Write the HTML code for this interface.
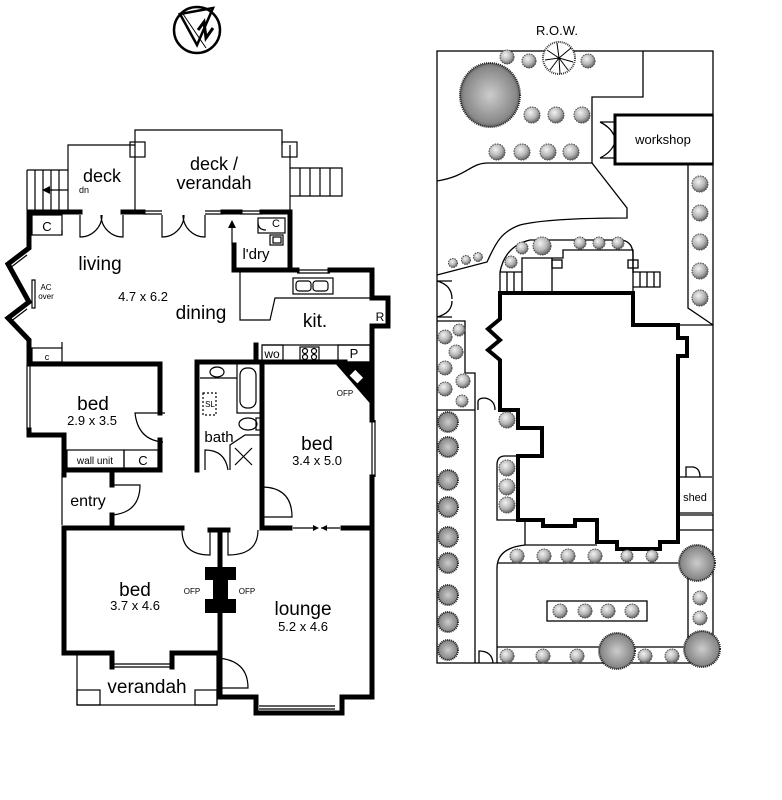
<!DOCTYPE html>
<html><head><meta charset="utf-8"><style>
html,body{margin:0;padding:0;background:#fff;}
svg{display:block;}
text{font-family:"Liberation Sans",sans-serif;fill:#000;}
</style></head><body>
<svg width="782" height="800" viewBox="0 0 782 800" xmlns="http://www.w3.org/2000/svg">
<defs>
<radialGradient id="sh" cx="40%" cy="35%" r="65%"><stop offset="0" stop-color="#f2f2f2"/><stop offset="0.6" stop-color="#b5b5b5"/><stop offset="1" stop-color="#666"/></radialGradient>
<radialGradient id="tr" cx="50%" cy="50%" r="55%"><stop offset="0" stop-color="#ccc"/><stop offset="0.8" stop-color="#888"/><stop offset="1" stop-color="#444"/></radialGradient>
</defs>
<g fill="none" stroke="#000">
<!-- compass -->
<circle cx="197" cy="30" r="23" stroke-width="2.5"/>
<path d="M180,14 L213,8 L197,45 Z" stroke-width="2.5"/>
<path d="M183,14 L206,48" stroke-width="1"/>
<path d="M198,30 L204,22 L206,38 L213,28" stroke-width="3"/>

<!-- ===== FLOOR PLAN thin lines ===== -->
<g stroke-width="1.2">
<path d="M68,210 V145 H135 V130 H282 V145"/>
<path d="M135,145 V210 M290,145 V210"/>
<rect x="130" y="142" width="15" height="15"/>
<rect x="282" y="142" width="15" height="15"/>
<path d="M27,170 H68 M27,170 V210 M35,170 V210 M43,170 V210 M51,170 V210 M59,170 V210"/>
<path d="M290,168 H342 V196 H290 M300,168 V196 M310,168 V196 M320,168 V196 M330,168 V196"/>
<path d="M143,211 H162 M143,214 H162 M205,211 H223 M205,214 H223 M240,211 H262 M240,214 H262"/>
<!-- doors top -->
<path d="M80,215 V237 A22,22 0 0 0 102,215 M123,215 V237 A22,22 0 0 1 101,215"/>
<path d="M162,215 V237 A22,22 0 0 0 184,215 M205,215 V237 A22,22 0 0 1 183,215"/>
<rect x="32" y="215" width="30" height="20"/>
<rect x="32" y="348" width="30" height="14"/>
<path d="M62,235 V230 M62,348 V342"/>
<rect x="258" y="218" width="27" height="15"/>
<path d="M258,222 Q258,230 266,230"/>
<rect x="270" y="235" width="13" height="10"/><rect x="273" y="237" width="8" height="6"/>
<rect x="32" y="280" width="3" height="28" fill="#fff"/>
<path d="M27,250 L8,264 M27,255 L10,268 M27,304 L8,318 M27,309 L10,322"/>
<path d="M240,272 V320 H270 L275,298 H370"/>
<rect x="293" y="278" width="40" height="16"/><rect x="296" y="281" width="15" height="10" rx="3"/><rect x="313" y="281" width="15" height="10" rx="3"/>
<path d="M297,270 H330 M297,273 H330"/>
<path d="M262,345 H370 M262,362 H370"/>
<rect x="262" y="345" width="21" height="17"/>
<rect x="300" y="347" width="19" height="13"/>
<circle cx="305" cy="351" r="2.5"/><circle cx="314" cy="351" r="2.5"/><circle cx="305" cy="357" r="2.5"/><circle cx="314" cy="357" r="2.5"/>
<rect x="338" y="345" width="32" height="17"/>
<path d="M200,363 H262 M200,378 H237 M237,363 V413 H262"/>
<ellipse cx="217" cy="372" rx="7" ry="5"/>
<rect x="240" y="368" width="16" height="40" rx="7"/>
<ellipse cx="248" cy="424" rx="9" ry="6"/><rect x="256" y="418" width="5" height="12"/>
<rect x="203" y="393" width="13" height="22" stroke-dasharray="2,2"/>
<path d="M230,470 V445 L245,435 H262 M235,448 L252,465 M252,448 L235,465"/>
<path d="M205,470 V450 Q225,450 228,470"/>
<path d="M165,413 H158 M163,442 Q138,440 135,413 H163"/>
<rect x="67" y="450" width="57" height="18"/><rect x="124" y="450" width="34" height="18"/>
<path d="M62,473 V525 M110,485 H140 Q140,512 113,515"/>
<path d="M263,487 Q292,488 292,517 H263"/>
<path d="M372,420 V477 M375,420 V477"/>
<path d="M27,365 V430 M30,365 V430"/>
<path d="M182,530 Q182,555 210,555 V530 M258,530 Q258,555 228,555 V530"/>
<path d="M293,528 H313 M321,528 H340"/>
<path d="M77,655 V705 H217 V655"/>
<rect x="77" y="690" width="23" height="15"/><rect x="195" y="690" width="22" height="15"/>
<path d="M114,664 H170 M114,667 H170 M259,706 H335 M259,709 H335"/>
<path d="M217,658 Q248,660 248,688 H217"/>
</g>
<path d="M313,525 L319,528 L313,531 Z M321,528 L327,525 L327,531 Z" fill="#000" stroke="none"/>
<path d="M232,245 V222" stroke-width="1.2"/><path d="M228,228 L232,220 L236,228 Z" fill="#000" stroke="none"/>
<path d="M68,190 H45" stroke-width="1.2"/><path d="M50,186 L42,190 L50,194 Z" fill="#000" stroke="none"/>

<!-- ===== FLOOR PLAN thick walls ===== -->
<g stroke-width="5" stroke-linecap="square" stroke-linejoin="miter">
<path d="M29,212 H80 M123,212 H143 M223,212 H240 M262,212 H290"/>
<path d="M29,212 V248 L8,264 L29,302 L8,318 L29,340 V364"/>
<path d="M29,430 V435 H64 V470 H160 V440 M160,413 V364 H29"/>
<path d="M290,212 V270 H234 V245"/>
<path d="M234,270 H297 M330,270 H372 V298 H388 V326 H372 V420"/>
<path d="M372,477 V697 H342 V713 H256 V697 H220 V658"/>
<path d="M256,345 V362 M197,470 V362 H262 V528 H290 M343,528 H372"/>
<path d="M262,362 H345"/>
<path d="M64,475 V473 M112,473 V485 M112,515 V528"/>
<path d="M64,528 H182 M64,528 V653 H112 V667 M172,667 V653 H220 V645 M210,530 H228 M220,530 V645"/>
</g>
<path d="M334,362 H374 V408 Z" fill="#000" stroke="none"/>
<path d="M112,667 H114 M170,667 H172" stroke-width="5"/>
<rect x="205" y="567" width="31" height="46" fill="#000" stroke="none"/>
<rect x="205" y="580" width="8" height="19" fill="#fff" stroke="none"/>
<rect x="228" y="580" width="8" height="19" fill="#fff" stroke="none"/>
<rect x="350" y="372" width="12" height="9" fill="#fff" stroke="#000" transform="rotate(45 356 377)"/>

<!-- ===== SITE PLAN ===== -->
<g stroke-width="1.3">
<rect x="437" y="51" width="276" height="612"/>
<path d="M643,51 V97 H592 V163 H488 C470,163 468,176 437,181"/>
<path d="M592,163 L627,208 V218 C580,218 540,220 520,225 C500,232 495,245 487,262 L437,275"/>
<path d="M600,122 H615 V158 H600 M600,122 Q612,128 615,138 M600,158 Q612,152 615,142"/>
<path d="M688,164 V308 L713,325 M678,325 H713"/>
<path d="M500,293 V272 Q505,246 530,240 H622 Q633,242 633,255 V273"/>
<path d="M500,272 H522 V293 M507,272 V293 M514,272 V293 M522,272 V258 H552 V293 M552,258 H563 V250 H633 V293"/>
<rect x="552" y="260" width="10" height="8"/><rect x="628" y="260" width="10" height="8"/>
<path d="M633,272 H660 V287 H633 M640,272 V287 M647,272 V287 M654,272 V287"/>
<path d="M437,281 H452 M437,317 H452 M437,281 Q452,285 452,299 M437,317 Q452,313 452,301"/>
<path d="M437,321 H465 V373 H475 V663 M437,410 H475 M478,410 V402 Q478,398 485,398 Q495,400 495,410"/>
<path d="M518,456 H505 Q497,456 497,465 V520 H518"/>
<path d="M525,520 V545 H597 M525,545 Q497,548 497,568 V663 M497,563 H688 V647 H497"/>
<rect x="547" y="601" width="100" height="20"/>
<path d="M678,477 H712 M678,513 H712 M678,515 H713 M678,530 H713 M686,477 V467 H693 Q700,468 700,477"/>
<path d="M479,663 V651 Q492,651 493,663"/>
</g>
<rect x="615" y="115" width="98" height="49" stroke-width="1.3"/>
<path d="M713,115 H615 V164 H713" stroke-width="3"/>
<path d="M500,293 H633 V325 H678 V338 H687 V356 H678 V542 H660 V549 H617 V542 H597 V520 H575 V526 H543 V520 H518 V456 H542 V428 H518 V410 H500 V360 L488,350 L500,340 L488,329 L500,319 Z" stroke-width="4"/>
</g>

<g fill="url(#sh)" stroke="#444" stroke-width="1" stroke-dasharray="1.5,1">
<circle cx="507" cy="57" r="7"/><circle cx="529" cy="61" r="7"/><circle cx="588" cy="61" r="7"/>
<circle cx="532" cy="115" r="8"/><circle cx="556" cy="115" r="8"/><circle cx="582" cy="115" r="8"/>
<circle cx="497" cy="152" r="8"/><circle cx="522" cy="152" r="8"/><circle cx="548" cy="152" r="8"/><circle cx="571" cy="152" r="8"/>
<circle cx="700" cy="184" r="8"/><circle cx="700" cy="213" r="8"/><circle cx="700" cy="242" r="8"/><circle cx="700" cy="271" r="8"/><circle cx="700" cy="298" r="8"/>
<circle cx="453" cy="263" r="4.5"/><circle cx="466" cy="260" r="4.5"/><circle cx="478" cy="257" r="4.5"/>
<circle cx="511" cy="262" r="6"/><circle cx="522" cy="248" r="6"/><circle cx="542" cy="246" r="9"/><circle cx="580" cy="243" r="6"/><circle cx="599" cy="243" r="6"/><circle cx="618" cy="243" r="6"/>
<circle cx="445" cy="337" r="7"/><circle cx="459" cy="330" r="6"/><circle cx="456" cy="352" r="7"/><circle cx="445" cy="368" r="7"/><circle cx="463" cy="381" r="7"/><circle cx="445" cy="389" r="7"/><circle cx="462" cy="401" r="6"/>
<circle cx="507" cy="420" r="8"/><circle cx="507" cy="468" r="8"/><circle cx="507" cy="487" r="8"/><circle cx="507" cy="505" r="8"/>
<circle cx="517" cy="556" r="7"/><circle cx="544" cy="556" r="7"/><circle cx="568" cy="556" r="7"/><circle cx="595" cy="556" r="7"/><circle cx="627" cy="556" r="6"/><circle cx="652" cy="556" r="6"/>
<circle cx="560" cy="611" r="7"/><circle cx="585" cy="611" r="7"/><circle cx="608" cy="611" r="7"/><circle cx="632" cy="611" r="7"/>
<circle cx="700" cy="598" r="7"/><circle cx="700" cy="618" r="7"/>
<circle cx="507" cy="656" r="7"/><circle cx="543" cy="656" r="7"/><circle cx="577" cy="656" r="7"/><circle cx="645" cy="656" r="7"/><circle cx="672" cy="656" r="7"/>
</g>
<g fill="url(#tr)" stroke="#222" stroke-width="2" stroke-dasharray="1,1">
<circle cx="448" cy="422" r="10"/><circle cx="448" cy="447" r="10"/><circle cx="448" cy="480" r="10"/><circle cx="448" cy="507" r="10"/><circle cx="448" cy="537" r="10"/><circle cx="448" cy="563" r="10"/><circle cx="448" cy="595" r="10"/><circle cx="448" cy="622" r="10"/><circle cx="448" cy="650" r="10"/>
<ellipse cx="490" cy="95" rx="30" ry="32"/>
<circle cx="697" cy="563" r="18"/><circle cx="617" cy="651" r="18"/><circle cx="702" cy="649" r="18"/>
</g>
<circle cx="559" cy="58" r="16" fill="#fff" stroke="#333" stroke-width="2" stroke-dasharray="1,1"/>
<path d="M559,58 L547,50 M559,58 L571,48 M559,58 L550,70 M559,58 L568,70 M559,58 L545,60 M559,58 L573,62 M559,58 L557,43 M559,58 L560,74" stroke="#000" stroke-width="1"/>

<g text-anchor="middle">
<text x="102" y="182" font-size="18">deck</text>
<text x="84" y="193" font-size="9">dn</text>
<text x="214" y="170" font-size="18">deck /</text>
<text x="214" y="189" font-size="18">verandah</text>
<text x="47" y="231" font-size="13">C</text>
<text x="276" y="227" font-size="11">C</text>
<text x="256" y="259" font-size="15">l'dry</text>
<text x="100" y="270" font-size="19">living</text>
<text x="143" y="301" font-size="13">4.7 x 6.2</text>
<text x="201" y="319" font-size="19">dining</text>
<text x="315" y="327" font-size="19">kit.</text>
<text x="380" y="321" font-size="12">R</text>
<text x="46" y="290" font-size="8">AC</text>
<text x="46" y="299" font-size="8">over</text>
<text x="47" y="360" font-size="9">c</text>
<text x="272" y="358" font-size="12">wo</text>
<text x="354" y="358" font-size="13">P</text>
<text x="210" y="407" font-size="8">SL</text>
<text x="93" y="410" font-size="19">bed</text>
<text x="92" y="425" font-size="13">2.9 x 3.5</text>
<text x="219" y="442" font-size="15">bath</text>
<text x="345" y="396" font-size="8">OFP</text>
<text x="317" y="450" font-size="19">bed</text>
<text x="317" y="465" font-size="13">3.4 x 5.0</text>
<text x="95" y="464" font-size="10">wall unit</text>
<text x="143" y="465" font-size="13">C</text>
<text x="88" y="506" font-size="16">entry</text>
<text x="135" y="596" font-size="19">bed</text>
<text x="135" y="610" font-size="13">3.7 x 4.6</text>
<text x="192" y="594" font-size="8">OFP</text>
<text x="247" y="594" font-size="8">OFP</text>
<text x="303" y="615" font-size="19">lounge</text>
<text x="303" y="631" font-size="13">5.2 x 4.6</text>
<text x="147" y="693" font-size="19">verandah</text>
<text x="557" y="35" font-size="13">R.O.W.</text>
<text x="663" y="144" font-size="13">workshop</text>
<text x="695" y="501" font-size="11">shed</text>
</g>
</svg>
</body></html>
